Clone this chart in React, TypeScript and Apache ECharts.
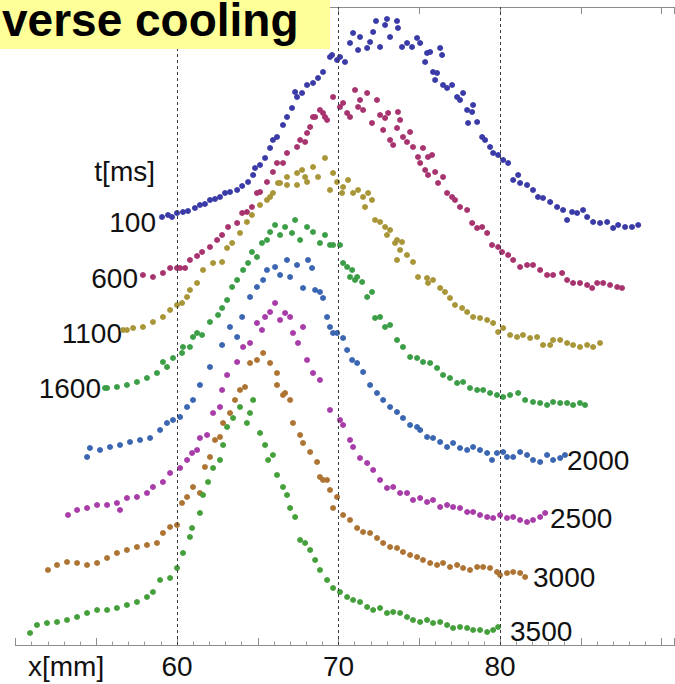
import React, { useEffect, useRef } from "react";
import * as echarts from "echarts";

// Delay times of the profiles (ms)
const timeLabels = ["100", "600", "1100", "1600", "2000", "2500", "3000", "3500"];

// x tick labels shown (mm) and dashed guide positions
const xTickLabels = [60, 70, 80];
const guideLines = [60, 70, 80];

// Each profile: [x in mm, stacked signal height]
const c100: [number, number][] = [
  [59.07, 428], [59.44, 430], [59.69, 428], [60.0, 432], [60.37, 433], [60.68, 434], [61.11, 437], [61.42, 440],
  [61.73, 441], [62.04, 445], [62.35, 446], [62.66, 448], [62.97, 452], [63.28, 453], [63.72, 455], [64.03, 459],
  [64.4, 463], [64.71, 470], [64.83, 477], [65.14, 480], [65.45, 487], [65.76, 497], [65.94, 505], [66.19, 508],
  [66.56, 520], [66.81, 528], [67.12, 537], [67.31, 553], [67.43, 548], [67.74, 552], [68.05, 560], [68.42, 562],
  [68.73, 567], [69.04, 573], [69.47, 588], [69.6, 590], [69.91, 585], [70.09, 588], [70.4, 583], [70.71, 602],
  [70.9, 612], [71.21, 595], [71.33, 608], [71.77, 597], [71.95, 603], [72.14, 613], [72.32, 624], [72.57, 598],
  [72.88, 620], [73.0, 626], [73.19, 608], [73.62, 624], [73.68, 617], [73.93, 598], [74.24, 602], [74.55, 598],
  [74.86, 607], [75.05, 602], [75.36, 583], [75.48, 592], [75.67, 593], [75.85, 573], [75.98, 565], [76.1, 572],
  [76.29, 597], [76.41, 590], [76.47, 560], [76.72, 557], [77.03, 560], [77.34, 548], [77.52, 545], [77.71, 552],
  [77.96, 535], [78.02, 522], [78.27, 533], [78.33, 540], [78.58, 523], [78.89, 508], [79.07, 505], [79.38, 498],
  [79.57, 492], [79.88, 490], [80.19, 485], [80.5, 482], [80.81, 465], [81.12, 470], [81.24, 462], [81.67, 460],
  [82.04, 455], [82.35, 448], [82.66, 447], [83.1, 443], [83.53, 438], [83.9, 435], [84.15, 425], [84.46, 433],
  [84.77, 432], [85.14, 435], [85.39, 428], [85.76, 423], [86.19, 422], [86.63, 423], [87.0, 417], [87.31, 420],
  [87.74, 418], [88.17, 418], [88.55, 420],
];

const c600: [number, number][] = [
  [57.89, 370], [58.51, 368], [59.13, 372], [59.57, 377], [60.0, 377], [60.19, 377], [60.5, 377], [60.8, 385],
  [61.24, 389], [61.55, 393], [62.04, 398], [62.48, 405], [62.79, 410], [63.16, 418], [63.72, 422], [64.03, 432],
  [64.33, 433], [64.64, 438], [64.95, 452], [65.14, 453], [65.57, 463], [65.94, 473], [66.19, 482], [66.56, 482],
  [66.81, 492], [67.43, 498], [67.62, 505], [67.93, 503], [68.05, 512], [68.24, 518], [68.42, 528], [68.55, 528],
  [68.85, 535], [69.04, 532], [69.16, 528], [69.29, 525], [69.66, 548], [70.09, 538], [70.28, 542], [70.53, 532],
  [70.71, 528], [71.02, 555], [71.21, 538], [71.33, 545], [71.52, 535], [71.77, 552], [72.07, 522], [72.38, 545],
  [72.57, 530], [72.76, 515], [72.88, 527], [73.07, 532], [73.19, 505], [73.38, 500], [73.62, 517], [73.68, 533],
  [73.81, 525], [73.99, 508], [74.24, 503], [74.43, 513], [74.61, 498], [74.92, 488], [75.05, 482], [75.23, 497],
  [75.36, 475], [75.54, 488], [75.54, 470], [75.79, 490], [75.98, 473], [76.16, 462], [76.47, 468], [76.72, 452],
  [77.03, 448], [77.21, 445], [77.52, 438], [77.96, 435], [78.27, 422], [78.58, 417], [78.89, 418], [79.2, 412],
  [79.5, 400], [79.88, 398], [80.12, 393], [80.5, 390], [80.81, 385], [81.24, 378], [81.67, 380], [82.04, 380],
  [82.48, 375], [82.91, 370], [83.28, 370], [83.84, 372], [84.15, 365], [84.52, 362], [84.95, 362], [85.39, 360],
  [85.7, 357], [86.01, 362], [86.38, 362], [86.81, 360], [87.25, 358], [87.55, 357],
];

const c1100: [number, number][] = [
  [56.66, 315], [56.9, 315], [57.28, 317], [57.89, 318], [58.51, 323], [59.13, 328], [59.57, 335], [60.0, 340],
  [60.31, 342], [60.62, 348], [60.8, 355], [61.24, 362], [61.61, 375], [62.23, 382], [62.79, 383], [63.1, 397],
  [63.41, 402], [63.9, 412], [64.33, 423], [64.64, 430], [65.14, 440], [65.57, 445], [65.76, 448], [65.94, 452],
  [66.25, 462], [66.38, 462], [66.81, 468], [66.81, 460], [67.43, 472], [67.43, 460], [67.74, 475], [67.93, 468],
  [68.05, 463], [68.42, 478], [68.73, 468], [69.16, 487], [69.47, 455], [69.66, 472], [69.91, 463], [70.22, 452],
  [70.28, 458], [70.59, 465], [70.9, 452], [71.21, 455], [71.52, 448], [71.64, 438], [71.83, 452], [72.07, 445],
  [72.26, 425], [72.57, 423], [72.88, 418], [73.0, 410], [73.19, 415], [73.5, 402], [73.62, 405], [73.62, 385],
  [73.81, 395], [73.93, 403], [74.24, 390], [74.61, 383], [74.92, 368], [75.48, 367], [75.54, 362], [75.85, 365],
  [76.29, 357], [76.59, 353], [76.9, 347], [77.21, 340], [77.65, 337], [77.96, 333], [78.33, 328], [78.76, 327],
  [79.2, 325], [79.57, 322], [79.88, 313], [80.19, 317], [80.62, 310], [81.05, 308], [81.42, 310], [81.86, 307],
  [82.29, 308], [82.66, 300], [83.1, 300], [83.28, 305], [83.72, 305], [84.15, 302], [84.52, 300], [84.95, 298],
  [85.39, 300], [85.76, 298], [86.19, 302],
];

const c1600: [number, number][] = [
  [55.54, 257], [55.67, 257], [56.28, 258], [56.9, 260], [57.52, 263], [58.14, 267], [58.76, 272], [59.13, 283],
  [59.38, 278], [59.75, 287], [60.31, 292], [60.37, 298], [60.8, 298], [60.99, 308], [61.24, 312], [61.55, 310],
  [62.04, 323], [62.54, 330], [62.79, 337], [63.1, 345], [63.41, 358], [63.72, 365], [64.09, 375], [64.4, 382],
  [64.64, 393], [64.95, 388], [65.26, 402], [65.57, 405], [65.76, 413], [66.07, 420], [66.38, 410], [66.69, 418],
  [67.12, 412], [67.31, 425], [67.62, 405], [68.05, 418], [68.42, 413], [68.85, 402], [69.16, 410], [69.47, 400],
  [69.66, 400], [70.09, 400], [70.28, 382], [70.53, 378], [70.71, 368], [70.84, 375], [71.02, 365], [71.15, 368],
  [71.46, 363], [71.77, 348], [72.07, 353], [72.26, 327], [72.57, 328], [72.88, 318], [73.19, 320], [73.62, 305],
  [73.99, 298], [74.43, 288], [74.86, 287], [75.23, 283], [75.67, 282], [76.1, 277], [76.47, 270], [76.9, 267],
  [77.34, 262], [77.71, 263], [78.14, 257], [78.58, 255], [78.95, 255], [79.38, 252], [79.81, 250], [80.19, 248],
  [80.62, 250], [81.12, 252], [81.55, 245], [82.04, 243], [82.48, 242], [82.91, 240], [83.28, 243], [83.72, 242],
  [84.15, 242], [84.52, 240], [84.95, 242], [85.26, 240],
];

const c2000: [number, number][] = [
  [54.43, 188], [54.61, 197], [55.23, 195], [55.85, 198], [56.47, 200], [57.09, 203], [57.71, 205], [58.33, 207],
  [58.95, 215], [59.38, 222], [59.75, 225], [60.19, 228], [60.62, 238], [60.99, 245], [61.42, 260], [62.04, 278],
  [62.79, 300], [63.28, 318], [63.72, 308], [64.03, 328], [64.52, 348], [64.95, 358], [65.33, 365], [65.57, 375],
  [66.07, 378], [66.38, 370], [66.81, 385], [67.0, 368], [67.43, 380], [67.8, 357], [68.11, 385], [68.36, 377],
  [68.55, 355], [68.85, 353], [69.04, 347], [69.29, 328], [69.47, 318], [69.66, 312], [69.91, 312], [70.28, 307],
  [70.53, 295], [70.84, 285], [71.15, 282], [71.52, 273], [71.95, 260], [72.38, 252], [72.76, 245], [73.19, 238],
  [73.62, 233], [73.99, 227], [74.43, 220], [74.86, 218], [75.05, 215], [75.48, 208], [75.85, 207], [76.29, 203],
  [76.72, 198], [77.09, 202], [77.52, 197], [77.96, 195], [78.33, 198], [78.76, 195], [79.2, 192], [79.5, 185],
  [79.81, 192], [80.19, 193], [80.43, 188], [80.81, 188], [81.24, 193], [81.67, 190], [82.04, 185], [82.48, 183],
  [82.91, 190], [83.28, 185], [83.72, 187], [84.02, 190],
];

const c2500: [number, number][] = [
  [53.25, 130], [53.81, 135], [54.43, 137], [55.05, 140], [55.67, 140], [56.28, 142], [56.47, 135], [56.9, 147],
  [57.52, 148], [58.14, 152], [58.51, 158], [59.13, 163], [59.57, 172], [60.19, 177], [60.62, 185], [60.93, 192],
  [61.24, 195], [61.42, 207], [61.86, 210], [62.23, 232], [62.66, 238], [62.79, 255], [63.1, 270], [63.72, 283],
  [64.09, 298], [64.52, 302], [64.95, 322], [65.26, 315], [65.45, 328], [65.76, 333], [66.07, 342], [66.38, 325],
  [66.69, 332], [67.0, 328], [67.18, 312], [67.49, 302], [67.8, 318], [68.05, 285], [68.42, 272], [68.85, 265],
  [69.47, 235], [70.09, 225], [70.28, 220], [70.71, 205], [70.9, 198], [71.33, 187], [71.77, 182], [72.14, 175],
  [72.57, 165], [73.0, 157], [73.38, 158], [73.81, 152], [74.24, 152], [74.61, 145], [75.05, 147], [75.48, 143],
  [75.85, 145], [76.29, 138], [76.72, 140], [77.09, 138], [77.52, 137], [77.96, 133], [78.33, 133], [78.76, 130],
  [79.2, 128], [79.57, 127], [80.0, 130], [80.43, 127], [80.81, 128], [81.24, 125], [81.67, 123], [82.04, 125],
  [82.48, 128], [82.79, 132],
];

const c3000: [number, number][] = [
  [52.01, 75], [52.57, 80], [53.19, 83], [53.81, 82], [54.43, 80], [55.05, 82], [55.67, 87], [56.28, 92],
  [56.9, 95], [57.52, 98], [58.14, 100], [58.76, 102], [59.13, 112], [59.57, 118], [60.0, 120], [60.31, 142],
  [60.62, 148], [60.99, 158], [61.42, 152], [61.73, 178], [62.04, 188], [62.35, 205], [62.66, 208], [62.85, 222],
  [63.28, 232], [63.59, 245], [63.9, 255], [64.21, 258], [64.52, 282], [64.95, 285], [65.33, 292], [65.76, 282],
  [66.19, 272], [66.19, 260], [66.56, 250], [66.69, 252], [67.0, 245], [67.18, 222], [67.62, 210], [67.8, 202],
  [68.24, 193], [68.67, 183], [68.85, 168], [69.04, 165], [69.29, 165], [69.47, 155], [69.66, 137], [69.91, 148],
  [70.28, 130], [70.71, 125], [71.15, 117], [71.52, 113], [71.95, 112], [72.38, 107], [72.76, 102], [73.19, 98],
  [73.62, 97], [73.99, 93], [74.43, 90], [74.86, 88], [75.23, 85], [75.67, 82], [76.1, 80], [76.47, 82],
  [76.9, 78], [77.34, 80], [77.71, 77], [78.14, 75], [78.58, 78], [78.95, 78], [79.38, 77], [79.81, 73],
  [80.0, 70], [80.43, 72], [80.81, 73], [81.24, 72], [81.55, 68],
];

const c3500: [number, number][] = [
  [50.9, 12], [51.33, 20], [51.95, 22], [52.57, 23], [53.19, 25], [53.81, 28], [54.43, 32], [55.05, 35],
  [55.67, 35], [56.28, 37], [56.9, 40], [57.52, 43], [58.14, 48], [58.51, 53], [58.95, 65], [59.57, 67],
  [60.0, 77], [60.37, 92], [60.8, 108], [60.93, 117], [61.42, 132], [61.61, 150], [61.92, 163], [62.23, 177],
  [62.66, 185], [62.85, 200], [63.1, 218], [63.47, 227], [63.9, 238], [64.33, 222], [64.52, 232], [64.71, 245],
  [65.14, 212], [65.45, 200], [65.64, 185], [65.94, 190], [66.19, 170], [66.56, 158], [66.81, 150], [67.0, 137],
  [67.31, 128], [67.62, 105], [67.93, 102], [68.24, 95], [68.55, 85], [68.85, 75], [69.29, 65], [69.66, 57],
  [70.09, 53], [70.53, 48], [70.9, 45], [71.33, 43], [71.77, 38], [72.14, 35], [72.57, 37], [73.0, 32],
  [73.38, 33], [73.81, 32], [74.24, 28], [74.61, 25], [75.05, 23], [75.48, 25], [75.85, 22], [76.29, 23],
  [76.72, 20], [77.09, 17], [77.52, 18], [77.96, 17], [78.33, 15], [78.76, 15], [79.2, 13], [79.57, 15],
  [79.88, 18],
];

const profiles = [c100, c600, c1100, c1600, c2000, c2500, c3000, c3500];

const colors = ["#3b3ba8", "#a8346f", "#a89638", "#3c9e46", "#3b66b2", "#a83ca8", "#ae7434", "#45a03c"];

// label layout (pixel placement of the curve tags)
const labelPlaces: { x: number; y: number; align: "left" | "right" }[] = [
  { x: 156, y: 222, align: "right" },
  { x: 138, y: 278, align: "right" },
  { x: 122, y: 333, align: "right" },
  { x: 101, y: 388, align: "right" },
  { x: 567, y: 460, align: "left" },
  { x: 550, y: 518, align: "left" },
  { x: 533, y: 577, align: "left" },
  { x: 510, y: 631, align: "left" },
];

const FONT = "'Liberation Sans', Arial, Helvetica, sans-serif";

export default function App() {
  const ref = useRef<HTMLDivElement>(null);

  useEffect(() => {
    if (!ref.current) return;
    const chart = echarts.init(ref.current, undefined, { renderer: "svg" });

    const series: any[] = profiles.map((d, i) => ({
      type: "scatter",
      name: timeLabels[i],
      data: d,
      symbol: "circle",
      symbolSize: 6,
      itemStyle: { color: colors[i], opacity: 1 },
      z: 3,
      silent: true,
    }));

    series.push({
      type: "scatter",
      data: [],
      silent: true,
      z: 2,
      markLine: {
        silent: true,
        symbol: ["none", "none"],
        label: { show: false },
        lineStyle: { color: "#3a3a3a", width: 1, type: [3, 3] },
        data: guideLines.map((v) => ({ xAxis: v })),
      },
    });

    const graphics: any[] = [
      {
        type: "text",
        x: 155,
        y: 171,
        style: {
          text: "t[ms]",
          fill: "#111",
          font: `28px ${FONT}`,
          textAlign: "right",
          textVerticalAlign: "middle",
        },
      },
      ...timeLabels.map((t, i) => ({
        type: "text",
        x: labelPlaces[i].x,
        y: labelPlaces[i].y,
        style: {
          text: t,
          fill: "#111",
          font: `28px ${FONT}`,
          textAlign: labelPlaces[i].align,
          textVerticalAlign: "middle",
        },
      })),
      {
        type: "text",
        x: 28,
        y: 666,
        style: {
          text: "x[mm]",
          fill: "#111",
          font: `28px ${FONT}`,
          textAlign: "left",
          textVerticalAlign: "middle",
        },
      },
      {
        type: "rect",
        shape: { x: 0, y: 0, width: 330, height: 49 },
        style: { fill: "#ffff99" },
        z: 10,
      },
      {
        type: "text",
        x: 2,
        y: 20,
        z: 11,
        style: {
          text: "verse cooling",
          fill: "#000",
          font: `bold 46px ${FONT}`,
          textAlign: "left",
          textVerticalAlign: "middle",
        },
      },
    ];

    chart.setOption({
      animation: false,
      backgroundColor: "#ffffff",
      grid: { left: 15.5, top: 7, width: 659, height: 638, containLabel: false },
      xAxis: [
        {
          type: "value",
          position: "bottom",
          min: 50,
          max: 90.8,
          interval: 5,
          axisLine: { show: true, lineStyle: { color: "#8c8c8c", width: 1.2 } },
          axisTick: { show: true, inside: true, length: 7, lineStyle: { color: "#8c8c8c" } },
          minorTick: { show: true, splitNumber: 5, length: 3.5, lineStyle: { color: "#9a9a9a" } },
          splitLine: { show: false },
          axisLabel: {
            show: true,
            margin: 7,
            fontSize: 28,
            fontFamily: FONT,
            color: "#111",
            showMinLabel: true,
            showMaxLabel: false,
            formatter: (v: number) => (xTickLabels.includes(Math.round(v)) && Math.abs(v - Math.round(v)) < 1e-6 ? String(Math.round(v)) : ""),
          },
        },
        {
          type: "value",
          position: "top",
          min: 50,
          max: 90.8,
          interval: 5,
          axisLine: { show: true, lineStyle: { color: "#8c8c8c", width: 1.2 } },
          axisTick: { show: true, inside: true, length: 7, lineStyle: { color: "#8c8c8c" } },
          splitLine: { show: false },
          axisLabel: { show: false },
        },
      ],
      yAxis: {
        type: "value",
        min: 0,
        max: 638,
        show: false,
        splitLine: { show: false },
      },
      series,
      graphic: graphics,
    });

    return () => chart.dispose();
  }, []);

  return (
    <div
      ref={ref}
      style={{ position: "fixed", left: 0, top: 0, width: 675, height: 684, background: "#fff" }}
    />
  );
}
